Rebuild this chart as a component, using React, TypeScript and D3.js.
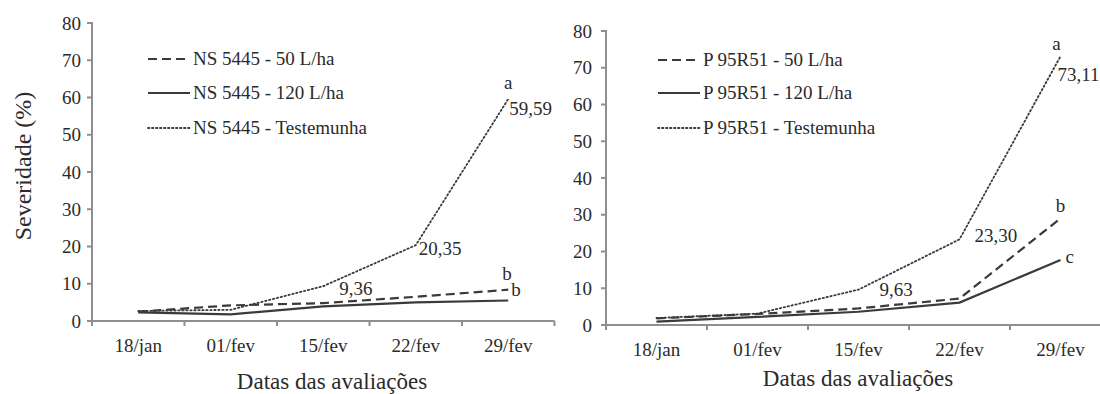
import React from "react";
import * as d3 from "d3";

// Evaluation dates (x categories) shared by both panels
const dates = ["18/jan", "01/fev", "15/fev", "22/fev", "29/fev"];
const yTicks = [0, 10, 20, 30, 40, 50, 60, 70, 80];

// Severity (%) — cultivar NS 5445
const ns50 = [2.5, 4.2, 4.8, 6.5, 8.4];
const ns120 = [2.3, 1.8, 3.9, 5.0, 5.5];
const nsTest = [2.7, 3.0, 9.36, 20.35, 59.59];

// Severity (%) — cultivar P 95R51
const p50 = [1.8, 3.0, 4.5, 7.2, 29.0];
const p120 = [0.9, 2.2, 3.6, 6.1, 17.7];
const pTest = [1.9, 3.1, 9.63, 23.3, 73.11];

const FONT = "'Liberation Serif', 'Times New Roman', serif";
const AXIS = "#8f8f8f";
const INK = "#2b2b2b";
const LINE = "#3a3a3a";
const DOT = "1.4,2.6";

type Series = { name: string; values: number[]; dash: string | null; width: number };
type Note = { text: string; idx: number; value: number; dx: number; dy: number; anchor?: string };

type PanelProps = {
  x0: number;
  x1: number;
  yBottom: number;
  yTop: number;
  labelGap: number;
  series: Series[];
  legendX: number;
  legendYs: number[];
  notes: Note[];
  xTitleX: number;
  xTitleY: number;
  tickLabelY: number;
  yTitle?: string;
};

const txt: React.CSSProperties = { fontFamily: FONT, fill: INK };

function Panel(p: PanelProps) {
  const x = d3.scaleBand<string>().domain(dates).range([p.x0, p.x1]).paddingInner(0).paddingOuter(0);
  const y = d3.scaleLinear().domain([0, 80]).range([p.yBottom, p.yTop]);
  const cx = (d: string) => (x(d) as number) + x.bandwidth() / 2;
  const line = d3
    .line<number>()
    .x((_, i) => cx(dates[i]))
    .y((v) => y(v));
  const boundaries = dates.map((d) => x(d) as number).concat([p.x1]);

  return (
    <g>
      {/* y axis */}
      <line x1={p.x0} x2={p.x0} y1={p.yTop - 1} y2={p.yBottom} stroke={AXIS} strokeWidth={2} />
      {yTicks.map((t) => (
        <g key={t}>
          <line x1={p.x0 - 5} x2={p.x0} y1={y(t)} y2={y(t)} stroke={AXIS} strokeWidth={2} />
          <text x={p.x0 - p.labelGap} y={y(t)} dy="0.35em" textAnchor="end" fontSize={19} style={txt}>
            {t}
          </text>
        </g>
      ))}
      {/* x axis */}
      <line x1={p.x0 - 5} x2={p.x1} y1={p.yBottom} y2={p.yBottom} stroke={AXIS} strokeWidth={2} />
      {boundaries.map((b, i) => (
        <line key={i} x1={b} x2={b} y1={p.yBottom} y2={p.yBottom + 5} stroke={AXIS} strokeWidth={2} />
      ))}
      {dates.map((d) => (
        <text key={d} x={cx(d)} y={p.tickLabelY} textAnchor="middle" fontSize={19} style={txt}>
          {d}
        </text>
      ))}
      <text x={p.xTitleX} y={p.xTitleY} textAnchor="middle" fontSize={23} style={txt}>
        Datas das avaliações
      </text>
      {p.yTitle && (
        <text
          transform={`translate(31, ${(p.yTop + p.yBottom) / 2 - 6}) rotate(-90)`}
          textAnchor="middle"
          fontSize={24}
          style={txt}
        >
          {p.yTitle}
        </text>
      )}
      {/* data lines */}
      {p.series.map((s) => (
        <path
          key={s.name}
          d={line(s.values) as string}
          fill="none"
          stroke={LINE}
          strokeWidth={s.width}
          strokeDasharray={s.dash ?? undefined}
          strokeLinecap={s.dash === DOT ? "round" : "butt"}
        />
      ))}
      {/* value and letter annotations */}
      {p.notes.map((n, i) => (
        <text
          key={i}
          x={cx(dates[n.idx]) + n.dx}
          y={y(n.value) + n.dy}
          textAnchor={n.anchor ?? "start"}
          fontSize={19}
          style={txt}
        >
          {n.text}
        </text>
      ))}
      {/* legend */}
      {p.series.map((s, i) => (
        <g key={s.name}>
          <line
            x1={p.legendX}
            x2={p.legendX + 42}
            y1={p.legendYs[i]}
            y2={p.legendYs[i]}
            stroke={LINE}
            strokeWidth={s.width}
            strokeDasharray={s.dash ?? undefined}
            strokeLinecap={s.dash === DOT ? "round" : "butt"}
          />
          <text x={p.legendX + 45} y={p.legendYs[i]} dy="0.34em" fontSize={19} style={txt}>
            {s.name}
          </text>
        </g>
      ))}
    </g>
  );
}

export default function App() {
  const nsSeries: Series[] = [
    { name: "NS 5445 - 50 L/ha", values: ns50, dash: "9,5", width: 2.2 },
    { name: "NS 5445 - 120 L/ha", values: ns120, dash: null, width: 2.2 },
    { name: "NS 5445 - Testemunha", values: nsTest, dash: DOT, width: 1.8 },
  ];
  const pSeries: Series[] = [
    { name: "P 95R51 - 50 L/ha", values: p50, dash: "9,5", width: 2.2 },
    { name: "P 95R51 - 120 L/ha", values: p120, dash: null, width: 2.2 },
    { name: "P 95R51 - Testemunha", values: pTest, dash: DOT, width: 1.8 },
  ];
  const nsNotes: Note[] = [
    { text: "a", idx: 4, value: nsTest[4], dx: 0, dy: -10, anchor: "middle" },
    { text: "59,59", idx: 4, value: nsTest[4], dx: 1, dy: 16 },
    { text: "20,35", idx: 3, value: nsTest[3], dx: 3, dy: 10 },
    { text: "9,36", idx: 2, value: nsTest[2], dx: 16, dy: 9 },
    { text: "b", idx: 4, value: ns120[4], dx: -6, dy: -21 },
    { text: "b", idx: 4, value: ns50[4], dx: 3, dy: 6 },
  ];
  const pNotes: Note[] = [
    { text: "a", idx: 4, value: pTest[4], dx: -4, dy: -6, anchor: "middle" },
    { text: "73,11", idx: 4, value: pTest[4], dx: -3, dy: 25 },
    { text: "23,30", idx: 3, value: pTest[3], dx: 15, dy: 3 },
    { text: "9,63", idx: 2, value: pTest[2], dx: 21, dy: 6 },
    { text: "b", idx: 4, value: p50[4], dx: 0, dy: -6, anchor: "middle" },
    { text: "c", idx: 4, value: p120[4], dx: 5, dy: 3 },
  ];

  return (
    <svg
      width={1100}
      height={394}
      viewBox="0 0 1100 394"
      style={{ position: "absolute", left: 0, top: 0, background: "#fff", fontFamily: FONT }}
    >
      <rect width={1100} height={394} fill="#fff" />
      <Panel
        x0={92}
        x1={554.5}
        yBottom={321}
        yTop={23}
        labelGap={11}
        series={nsSeries}
        legendX={148}
        legendYs={[59, 93, 128]}
        notes={nsNotes}
        xTitleX={332}
        xTitleY={389}
        tickLabelY={352}
        yTitle="Severidade (%)"
      />
      <Panel
        x0={606}
        x1={1111}
        yBottom={325}
        yTop={31}
        labelGap={14}
        series={pSeries}
        legendX={658}
        legendYs={[60, 93, 128]}
        notes={pNotes}
        xTitleX={858}
        xTitleY={386}
        tickLabelY={356}
      />
    </svg>
  );
}
